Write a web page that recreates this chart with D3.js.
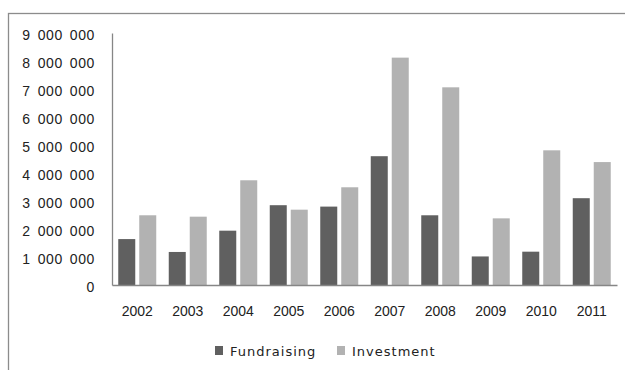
<!DOCTYPE html>
<html>
<head>
<meta charset="utf-8">
<script src="https://cdn.jsdelivr.net/npm/d3@7"></script>
<style>
  html, body { margin: 0; padding: 0; background: #fff; }
  svg { display: block; }
</style>
</head>
<body>
<svg id="chart" width="625" height="370"></svg>
<script>
// Yearly totals, fundraising vs investment
const years = ["2002", "2003", "2004", "2005", "2006", "2007", "2008", "2009", "2010", "2011"];
const seriesNames = ["Fundraising", "Investment"];
const fundraising = [1640000, 1180000, 1940000, 2850000, 2800000, 4600000, 2490000, 1020000, 1190000, 3100000];
const investment = [2490000, 2440000, 3740000, 2690000, 3490000, 8120000, 7060000, 2380000, 4810000, 4390000];
const yTicks = [0, 1000000, 2000000, 3000000, 4000000, 5000000, 6000000, 7000000, 8000000, 9000000];
const colors = ["#606060", "#b2b2b2"];

const svg = d3.select("#chart");
const W = 625, H = 370;
const plot = { left: 112, right: 617, top: 33, bottom: 285 };

// outer frame (only top and left edges fall inside the canvas)
svg.append("rect")
  .attr("x", 8.5).attr("y", 13.5)
  .attr("width", W + 20).attr("height", H + 20)
  .attr("fill", "none").attr("stroke", "#8c8c8c").attr("stroke-width", 1.3);

const x0 = d3.scaleBand().domain(years)
  .range([plot.left, plot.right])
  .paddingInner(0.2475).paddingOuter(0.12375);
const x1 = d3.scaleBand().domain(seriesNames)
  .range([0, x0.bandwidth()]).paddingInner(0.19);
const y = d3.scaleLinear().domain([0, 9000000]).range([plot.bottom, plot.top]);

const rows = years.map((yr, i) => ({ year: yr, values: [fundraising[i], investment[i]] }));

// bars
const g = svg.append("g").selectAll("g").data(rows).join("g")
  .attr("transform", d => `translate(${x0(d.year)},0)`);
g.selectAll("rect").data(d => d.values.map((v, k) => ({ key: seriesNames[k], v, k })))
  .join("rect")
  .attr("x", d => x1(d.key))
  .attr("width", x1.bandwidth())
  .attr("y", d => y(d.v))
  .attr("height", d => y(0) - y(d.v))
  .attr("fill", d => colors[d.k]);

// y axis: line + labels
const fmt = v => d3.format(",")(v).replace(/,/g, " ");
const yAxis = d3.axisLeft(y).tickValues(yTicks).tickSize(0).tickPadding(17).tickFormat(fmt);
const ya = svg.append("g").attr("transform", `translate(${plot.left},0)`).call(yAxis);
ya.select(".domain").attr("stroke", "#868686").attr("stroke-width", 1.3);
ya.selectAll("text")
  .attr("font-family", "'Liberation Sans', Arial, sans-serif")
  .attr("font-size", 14)
  .attr("fill", "#222")
  .attr("letter-spacing", 0.6)
  .attr("word-spacing", 2.5)
  .attr("dy", "0.46em");

// x axis
const xAxis = d3.axisBottom(x0).tickSize(0).tickPadding(21);
const xa = svg.append("g").attr("transform", `translate(0,${plot.bottom})`).call(xAxis);
xa.select(".domain").attr("stroke", "#868686").attr("stroke-width", 1.3);
xa.selectAll("text")
  .attr("font-family", "'Liberation Sans', Arial, sans-serif")
  .attr("font-size", 14)
  .attr("fill", "#222");

// legend
const legendX = [215, 337];
const lg = svg.append("g").selectAll("g").data(seriesNames).join("g")
  .attr("transform", (d, i) => `translate(${legendX[i]},345)`);
lg.append("rect").attr("width", 8).attr("height", 9).attr("y", 1)
  .attr("fill", (d, i) => colors[i]);
lg.append("text").attr("x", 15).attr("y", 10.5)
  .attr("font-family", "'DejaVu Sans', Verdana, sans-serif")
  .attr("font-size", 13)
  .attr("letter-spacing", 1)
  .attr("fill", "#222")
  .text(d => d);
</script>
</body>
</html>
